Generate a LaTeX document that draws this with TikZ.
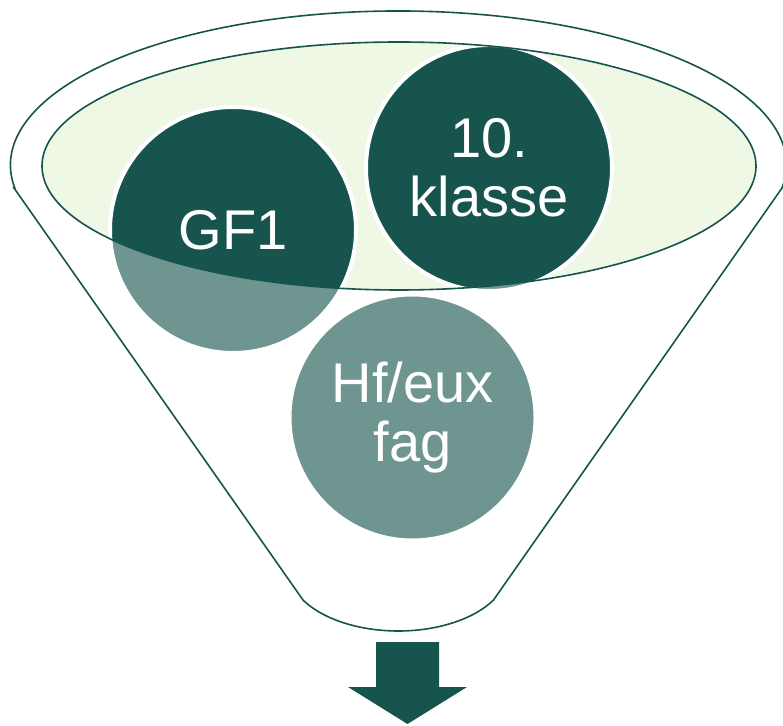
\documentclass[tikz,border=0pt]{standalone}
\usepackage{fontspec}
\setmainfont{Liberation Sans}
\definecolor{darkteal}{HTML}{17544E}
\definecolor{palegreen}{HTML}{EEF8E4}

\begin{document}
\begin{tikzpicture}[x=1pt,y=1pt,
        ball/.style={circle, minimum size=246pt, inner sep=0pt, fill=darkteal, draw=white, line width=4pt},
        balltext/.style={text=white, align=center, font=\fontsize{56}{59}\selectfont},
        rim/.style={draw=darkteal, line width=1.6pt}]
        \useasboundingbox (0,0) rectangle (783,725);
        \fill[palegreen] (399,559) ellipse [x radius=357pt, y radius=124pt];
        \node[ball] (gf1) at (233,495) {};
        \node[ball] (klasse) at (489,557) {};
        \node[ball] (fag) at (412.5,307.5) {};
        \fill[white, opacity=0.38, even odd rule] (0,0) rectangle (783,725) (399,559) ellipse [x radius=357pt, y radius=124pt];
        \draw[rim] (14,537) -- (303,125) arc[start angle=210, end angle=330, x radius=110pt, y radius=62pt] -- (782,537) arc[start angle=-8.6, end angle=188.6, x radius=388pt, y radius=154pt] -- cycle;
        \draw[rim] (399,559) ellipse [x radius=357pt, y radius=124pt];
        \node[balltext] (gf1text) at (gf1) {GF1};
        \node[balltext] (klassetext) at (klasse) {10.\\klasse};
        \node[balltext] (fagtext) at (fag) {Hf/eux\\fag};
        \fill[darkteal] (376,83) -- (439,83) -- (439,38) -- (467,38) -- (407.5,1) -- (348,38) -- (376,38) -- cycle;
    \end{tikzpicture}
\end{document}
